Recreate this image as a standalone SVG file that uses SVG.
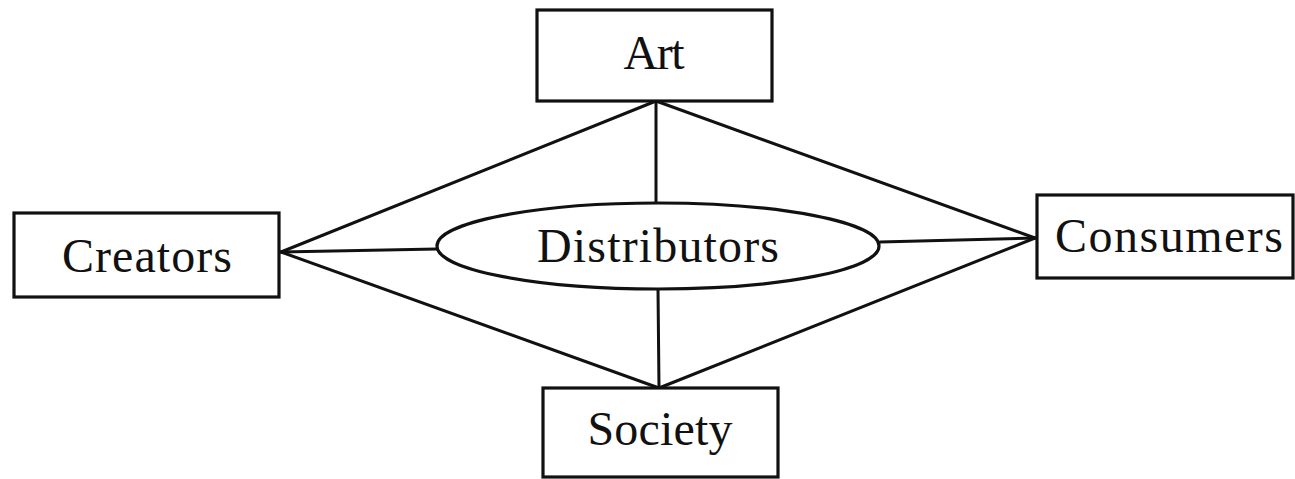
<svg xmlns="http://www.w3.org/2000/svg" width="1295" height="479" viewBox="0 0 1295 479">
<style>
.box{fill:#fff;stroke:#111;stroke-width:3.2}
.lbl{font-family:"Liberation Serif","Times New Roman",serif;font-size:48px;fill:#111}
.con line{stroke:#111;stroke-width:3;stroke-linecap:round}
</style>
<rect width="1295" height="479" fill="#fff"/>
<g id="connectors" class="con">
<line x1="656" y1="101" x2="281" y2="252"/>
<line x1="656" y1="101" x2="1035" y2="238"/>
<line x1="656" y1="101" x2="656" y2="203"/>
<line x1="281" y1="252" x2="437" y2="249"/>
<line x1="880" y1="242" x2="1035" y2="238"/>
<line x1="658" y1="289" x2="659" y2="388"/>
<line x1="281" y1="252" x2="659" y2="388"/>
<line x1="659" y1="388" x2="1035" y2="238"/>
</g>
<g id="art">
<rect class="box" x="537" y="10" width="235" height="91"/>
<text class="lbl" x="654" y="69" text-anchor="middle" textLength="61">Art</text>
</g>
<g id="creators">
<rect class="box" x="14" y="213" width="265" height="84"/>
<text class="lbl" x="147" y="272" text-anchor="middle" textLength="170">Creators</text>
</g>
<g id="consumers">
<rect class="box" x="1037" y="195" width="256" height="83"/>
<text class="lbl" x="1169" y="252" text-anchor="middle" textLength="228">Consumers</text>
</g>
<g id="society">
<rect class="box" x="543" y="388" width="235" height="89"/>
<text class="lbl" x="660" y="445" text-anchor="middle" textLength="145">Society</text>
</g>
<g id="distributors">
<ellipse class="box" cx="658" cy="246" rx="221" ry="43"/>
<text class="lbl" x="658" y="262" text-anchor="middle" textLength="242">Distributors</text>
</g>
</svg>
